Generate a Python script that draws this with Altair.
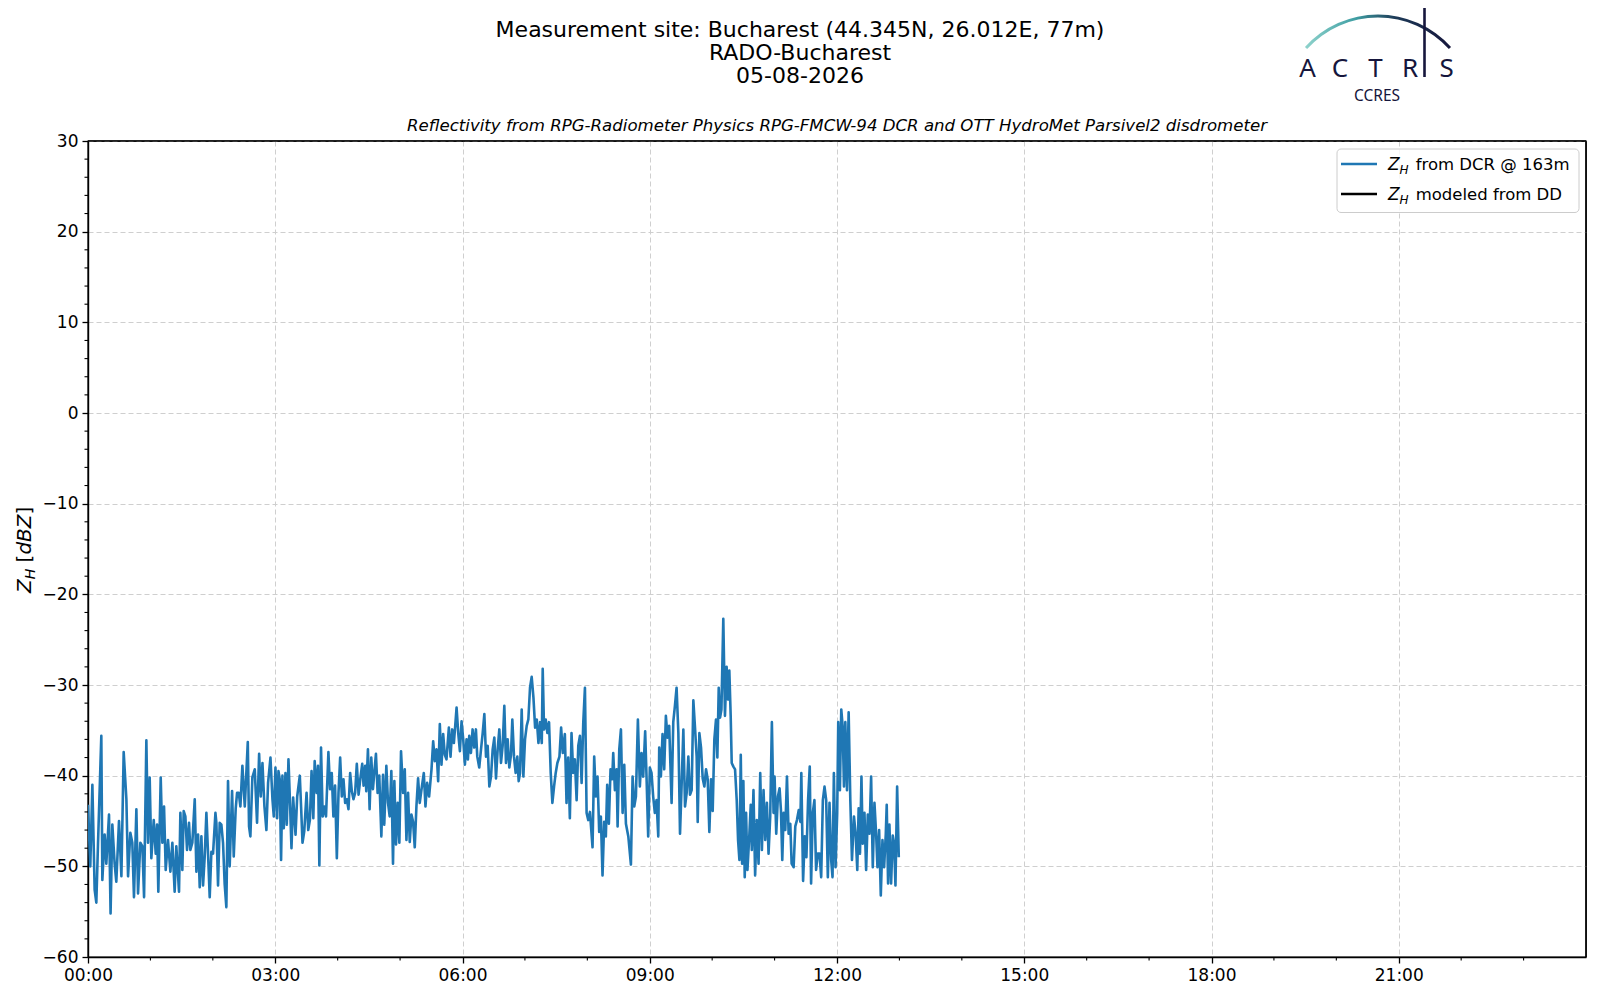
import altair as alt
import pandas as pd

# ---------------- data ----------------
minutes = [
    0.0, 2.2, 4.2, 6.4, 8.0, 9.6, 12.8, 13.8, 16.0, 17.6, 20.2, 21.7, 23.4, 25.6, 27.2, 29.8,
    32.1, 34.3, 36.9, 38.5, 40.7, 42.6, 44.2, 46.5, 48.1, 50.3, 52.3, 53.9, 56.1, 57.7, 59.3,
    60.9, 63.2, 65.1, 66.4, 67.6, 69.9, 71.5, 73.1, 74.7, 76.9, 79.2, 81.1, 83.3, 84.9, 87.5,
    88.8, 90.7, 92.0, 93.6, 95.2, 97.1, 98.4, 100.3, 102.6, 104.2, 105.8, 107.4, 109.0, 110.6,
    112.2, 113.8, 115.4, 117.0, 118.6, 120.2, 122.5, 123.4, 125.0, 126.6, 128.2, 129.8, 131.4,
    133.0, 134.6, 136.2, 138.5, 140.1, 142.0, 143.3, 144.9, 146.5, 148.4,
    150.7, 153.6, 154.8, 156.1, 158.0, 160.3, 162.5, 164.5, 166.1, 167.7, 169.6, 171.5, 173.1,
    175.4, 177.3, 178.6, 180.2, 181.8, 183.1, 184.3, 185.6, 186.9, 188.2, 189.8, 191.1, 192.7,
    194.3, 195.6, 197.2, 199.5, 201.1, 203.6, 204.9, 206.2, 207.9, 210.1, 211.7, 213.3, 214.9,
    216.6, 217.9, 219.8, 221.1, 222.4, 224.0, 225.6, 227.2, 228.8, 231.1, 232.7, 234.3, 235.9,
    237.5, 239.2, 240.8, 242.4, 244.0, 245.6, 247.2, 248.8, 250.4, 252.0, 253.6, 255.2, 256.8,
    258.4, 260.1, 261.7, 263.6, 264.9, 266.5, 267.5, 269.1, 270.7, 272.3, 273.9, 275.2, 276.8,
    278.4, 280.0, 282.0, 283.6, 284.8, 286.8, 288.4, 290.0, 291.6, 293.2, 294.5, 296.1, 297.7,
    299.3, 300.9,
    302.9, 304.5, 306.1, 307.7, 309.3, 310.9, 312.5, 314.1, 315.7, 317.3, 318.9, 320.5, 322.8,
    324.4, 326.0, 327.9, 330.2, 331.8, 333.4, 335.0, 336.6, 338.2, 339.8, 341.4, 343.0, 344.6,
    346.9, 348.5, 350.1, 351.7, 353.0, 354.3, 355.9, 357.5, 359.1, 360.7, 362.3, 363.9, 365.2,
    366.5, 368.1, 369.7, 371.3, 372.9, 374.2, 376.1, 377.8, 379.4, 381.0, 382.6, 384.2, 385.8,
    387.4, 389.0, 390.6, 392.2, 393.8, 395.4, 397.0, 398.6, 400.2, 401.8, 403.4, 405.0, 406.6,
    407.9, 409.5, 411.1, 412.7, 414.0, 415.3, 416.9, 418.5, 420.1, 421.7, 423.3, 424.9, 426.5,
    428.2, 429.8, 431.4, 433.0, 434.6, 436.2, 437.1, 438.4, 440.0, 441.6, 443.2, 444.8, 446.4,
    448.0, 449.6, 451.2, 453.2, 454.8, 456.4,
    458.4, 460.0, 461.6, 463.2, 464.8, 466.4, 468.0, 469.7, 471.3, 472.9, 474.5, 476.1, 477.7,
    479.3, 480.9, 482.5, 485.0, 486.6, 488.2, 489.8, 491.4, 493.0, 494.6, 496.2, 497.8, 499.1,
    500.7, 502.3, 503.9, 504.9, 506.5, 508.1, 509.1, 510.7, 512.3, 513.9, 515.5, 517.1, 519.4,
    521.9, 523.5, 525.1, 526.7, 528.6, 530.5, 532.1, 533.7, 535.6, 536.9, 538.5, 540.1, 541.7,
    543.3, 544.9, 546.5, 548.2, 549.1, 550.7, 552.3, 553.9, 555.5, 557.1, 558.7, 561.0, 562.6,
    564.2, 565.8, 567.5, 569.1, 570.7, 572.3, 573.9, 575.5, 577.1, 578.7, 580.3, 581.9, 583.5,
    585.1, 586.1, 587.7, 589.3, 590.9, 592.5, 594.1, 595.7, 597.3, 598.9, 600.5, 602.1, 603.7,
    605.0, 606.3, 607.6, 608.9, 610.7,
    612.3, 613.9, 615.2, 616.5, 617.8, 618.8, 620.4, 622.0, 623.6, 624.9, 626.2, 627.5, 628.8,
    630.0, 631.3, 632.6, 633.9, 635.8, 637.1, 638.1, 639.7, 641.3, 642.9, 644.6, 646.2, 647.8,
    649.4, 651.0, 652.6, 654.2, 655.8, 657.4, 659.0, 660.0, 661.6, 663.2, 664.8, 666.1, 667.4,
    668.7, 670.3, 671.9, 673.5, 675.1, 676.4, 678.3, 679.9, 681.5, 683.2, 684.8, 685.7, 687.4,
    689.0, 690.6, 692.2, 693.8, 695.1, 696.7, 698.3, 699.9, 701.5, 703.2, 704.8, 706.4, 708.0,
    709.6, 711.2, 712.8, 714.4, 715.7, 717.0, 718.6, 720.2, 721.2, 722.8, 724.1, 725.4, 726.7,
    728.0, 729.6, 731.2, 732.8, 734.4, 736.3, 737.9, 739.5, 740.8, 742.1, 743.5, 744.7, 746.4,
    748.0, 749.6, 751.2, 752.8, 754.4, 756.0, 757.6, 758.9, 760.5, 762.1, 763.7, 765.3, 766.9,
    767.8, 769.1, 770.4, 772.0, 773.6, 774.9, 776.2, 777.8, 779.4,
]

dbz = [
    -43.2, -50.0, -41.0, -52.6, -54.0, -47.6, -35.6, -51.5, -46.5, -49.7, -44.3, -55.2, -45.4, -49.7, -51.7, -45.0,
    -51.1, -37.4, -42.6, -51.1, -46.3, -47.4, -53.4, -43.7, -53.0, -47.4, -47.8, -53.4, -36.1, -47.4, -40.2,
    -49.1, -44.9, -48.6, -45.4, -52.8, -40.2, -47.4, -43.4, -50.4, -47.1, -50.6, -47.4, -52.8, -47.8, -52.8,
    -44.1, -50.4, -43.9, -44.5, -48.2, -45.2, -48.2, -47.4, -42.6, -50.6, -46.5, -52.3, -46.7, -52.1,
    -48.9, -44.1, -48.6, -53.4, -48.4, -48.6, -44.1, -45.2, -52.1, -45.2, -45.4, -47.4, -52.0,
    -54.5, -40.6, -50.0, -41.7, -48.9, -43.6, -41.9, -41.9, -43.4, -38.9,
    -43.4, -36.3, -45.6, -46.7, -40.2, -39.3, -45.2, -37.6, -42.3, -38.6, -43.4, -46.0, -40.8,
    -38.0, -42.6, -44.5, -39.1, -44.7, -39.5, -40.4, -49.3, -40.0, -45.8, -39.7, -45.4, -38.2,
    -43.4, -48.0, -42.4, -46.5, -42.3, -40.0, -43.6, -47.4, -46.1, -41.9, -46.0, -44.9, -39.5,
    -44.7, -38.4, -41.9, -38.9, -49.9, -36.9, -44.5, -43.4, -44.5, -37.4, -41.5, -39.7, -44.5,
    -41.1, -49.1, -41.9, -38.0, -42.3, -40.4, -43.0, -42.6, -43.7, -39.7, -41.7, -42.6, -41.9,
    -38.7, -42.1, -40.4, -38.7, -41.1, -38.9, -41.7, -37.1, -43.7, -38.0, -41.5, -39.7, -37.6,
    -41.9, -40.0, -46.7, -39.9, -45.4, -38.9, -43.0, -44.5, -39.5, -49.7, -40.6, -47.6, -43.0,
    -47.4, -37.3,
    -41.9, -39.3, -47.1, -41.9, -47.3, -44.3, -45.1, -47.9, -43.4, -40.3, -43.0, -41.6, -39.7,
    -43.4, -40.8, -42.3, -39.3, -36.2, -38.4, -37.1, -40.6, -34.3, -38.8, -35.4, -37.7, -38.2,
    -34.7, -37.9, -34.9, -36.4, -34.5, -32.5, -35.3, -37.3, -34.0, -36.0, -38.8, -36.0, -38.2,
    -35.6, -37.5, -34.9, -36.9, -34.9, -37.9, -39.1, -37.1, -35.3, -33.2, -37.9, -36.7, -41.2,
    -40.1, -37.1, -35.8, -40.3, -37.1, -34.9, -38.6, -36.7, -32.3, -38.6, -36.0, -39.1, -37.7,
    -33.8, -37.9, -39.7, -37.9, -40.6, -39.7, -32.7, -40.1, -36.0, -34.5, -33.8, -30.3, -29.1,
    -31.4, -34.7, -33.8, -36.4, -34.1, -36.4, -28.2, -34.9, -33.8, -35.3, -34.1, -39.7, -43.0,
    -41.2, -39.7, -38.6, -37.9, -34.7, -37.5,
    -35.4, -43.0, -38.0, -44.7, -35.3, -39.7, -38.2, -42.7, -36.7, -35.6, -40.8, -34.1, -30.3,
    -44.1, -44.9, -44.0, -47.9, -37.9, -42.3, -40.1, -46.2, -44.5, -51.0, -45.1, -46.7, -41.0,
    -45.3, -39.3, -40.4, -37.5, -41.6, -39.3, -45.6, -37.1, -34.9, -44.1, -38.8, -45.3, -46.7,
    -49.8, -40.1, -43.4, -42.3, -33.8, -41.2, -37.5, -40.1, -35.1, -40.1, -46.7, -39.1, -39.7,
    -42.3, -44.1, -42.7, -46.7, -36.9, -40.1, -35.4, -39.3, -33.4, -35.8, -34.5, -43.0, -34.1,
    -32.3, -30.3, -35.3, -46.4, -40.8, -34.9, -43.4, -41.9, -37.9, -42.1, -41.6, -31.7, -34.7,
    -37.9, -45.1, -35.3, -36.9, -40.3, -41.2, -39.3, -40.4, -46.2, -40.4, -43.9, -36.0, -33.8,
    -38.0, -30.3, -33.6, -32.7, -22.7,
    -33.4, -28.0, -31.6, -28.4, -33.4, -38.6, -39.0, -39.3, -42.7, -47.1, -49.3, -37.7, -49.7,
    -40.6, -51.2, -44.1, -50.4, -46.4, -43.2, -48.2, -41.6, -51.0, -44.9, -49.7, -39.7, -48.2,
    -41.6, -47.1, -43.0, -48.6, -44.5, -34.1, -44.1, -40.1, -46.4, -42.3, -41.4, -43.8, -49.3,
    -44.1, -46.0, -40.1, -46.4, -45.3, -49.7, -50.1, -45.6, -44.9, -43.8, -45.1, -39.7, -51.6,
    -46.7, -49.0, -42.7, -39.0, -51.9, -44.1, -42.7, -50.4, -48.6, -48.6, -51.2, -42.7, -41.2,
    -42.7, -51.2, -43.0, -49.3, -51.2, -39.7, -50.1, -44.1, -34.1, -41.6, -32.7, -34.5, -41.2,
    -34.1, -41.6, -33.0, -42.7, -49.3, -44.5, -46.4, -50.4, -43.6, -48.6, -40.1, -47.5, -44.1,
    -50.4, -44.3, -46.4, -40.1, -50.1, -43.0, -46.4, -50.1, -46.0, -53.2, -47.1, -50.1, -46.4,
    -43.2, -51.9, -45.4, -51.9, -46.6, -47.5, -52.1, -41.2, -49.0,
]

x_major = [0, 3, 6, 9, 12, 15, 18, 21]
x_minor = [h for h in range(1, 24) if h % 3 != 0]
y_major = [-60, -50, -40, -30, -20, -10, 0, 10, 20, 30]
y_minor = [v for v in range(-58, 30, 2) if v % 10 != 0]

title_lines = [
    "Measurement site: Bucharest (44.345N, 26.012E, 77m)",
    "RADO-Bucharest",
    "05-08-2026",
]
subtitle = ("Reflectivity from RPG-Radiometer Physics RPG-FMCW-94 DCR "
            "and OTT HydroMet Parsivel2 disdrometer")
legend_texts = ["from DCR @ 163m", "modeled from DD"]
legend_colors = ["#1f77b4", "#000000"]
logo_letters = ["A", "C", "T", "R", "S"]

# ---------------- layout ----------------
W, H = 1498, 816
FONT = "DejaVu Sans"
NAVY = "#16163c"

df = pd.DataFrame({"hour": [m / 60.0 for m in minutes], "dbz": dbz})
xscale = alt.Scale(domain=[0, 24], nice=False, zero=False)
yscale = alt.Scale(domain=[-60, 30], nice=False, zero=False)

common_axis = dict(
    title=None, grid=True, gridDash=[5, 3], gridColor="#cfcfcf", gridWidth=1,
    domainColor="black", domainWidth=1.4, tickColor="black", tickWidth=1.3, tickSize=6,
    labelFont=FONT, labelFontSize=17, labelColor="black", labelPadding=4,
    labelFlush=False, labelOverlap=False,
)
x_axis = alt.Axis(
    values=x_major,
    labelExpr="(datum.value < 10 ? '0' : '') + datum.value + ':00'",
    **common_axis)
y_axis = alt.Axis(
    values=y_major,
    labelExpr="replace(toString(datum.value), '-', '\u2212')",
    **common_axis)

line = alt.Chart(df).mark_line(
    color="#1f77b4", strokeWidth=2.6, strokeJoin="round", clip=True
).encode(
    x=alt.X("hour:Q", scale=xscale, axis=x_axis),
    y=alt.Y("dbz:Q", scale=yscale, axis=y_axis),
)

xminor = alt.Chart(pd.DataFrame({"hour": x_minor})).mark_rule(
    color="black", strokeWidth=1.1
).encode(
    x=alt.X("hour:Q", scale=xscale, axis=x_axis),
    y=alt.value(H), y2=alt.value(H + 3.5),
)
yminor = alt.Chart(pd.DataFrame({"dbz": y_minor})).mark_rule(
    color="black", strokeWidth=1.1
).encode(
    y=alt.Y("dbz:Q", scale=yscale, axis=y_axis),
    x=alt.value(0), x2=alt.value(-3.5),
)

one = pd.DataFrame({"k": [0]})


def txt(s, x, y, size, style="normal", align="center", baseline="middle",
        angle=None, color="black", font=FONT, weight="normal"):
    kw = dict(text=s, fontSize=size, fontStyle=style, align=align,
              baseline=baseline, color=color, font=font, fontWeight=weight)
    if angle is not None:
        kw["angle"] = angle
    return alt.Chart(one).mark_text(**kw).encode(x=alt.value(x), y=alt.value(y))


# top and right spines (drawn over the gridlines)
spine_top = alt.Chart(one).mark_rule(color="black", strokeWidth=1.4).encode(
    x=alt.value(0), x2=alt.value(W), y=alt.value(0))
spine_right = alt.Chart(one).mark_rule(color="black", strokeWidth=1.4).encode(
    x=alt.value(W), y=alt.value(0), y2=alt.value(H))

layers = [line, xminor, yminor, spine_top, spine_right]

# titles
for i, t in enumerate(title_lines):
    layers.append(txt(t, 712, -111 + 23 * i, 22))
layers.append(txt(subtitle, W / 2, -15, 16.6, style="italic"))

# y-axis label: Z_H [dBZ]
ylx = -57
layers += [
    txt("Z", ylx, 452, 20, style="italic", align="left", baseline="alphabetic", angle=270),
    txt("H", ylx + 4, 438.3, 14, style="italic", align="left", baseline="alphabetic", angle=270),
    txt("[", ylx, 421.4, 20, align="left", baseline="alphabetic", angle=270),
    txt("dBZ", ylx, 413.6, 20, style="italic", align="left", baseline="alphabetic", angle=270),
    txt("]", ylx, 373.5, 20, align="left", baseline="alphabetic", angle=270),
]

# legend
legend_box = alt.Chart(one).mark_rect(
    fill="white", fillOpacity=0.8, stroke="#cccccc", strokeWidth=1, cornerRadius=4
).encode(x=alt.value(1249), x2=alt.value(1491), y=alt.value(8), y2=alt.value(71.5))
layers.append(legend_box)
for i, (lab, col) in enumerate(zip(legend_texts, legend_colors)):
    yc = 23 + 30 * i
    layers.append(alt.Chart(one).mark_rule(color=col, strokeWidth=2.5).encode(
        x=alt.value(1253), x2=alt.value(1289), y=alt.value(yc)))
    layers.append(txt("Z", 1300, yc + 6, 17, style="italic", align="left", baseline="alphabetic"))
    layers.append(txt("H", 1311.6, yc + 10, 12, style="italic", align="left", baseline="alphabetic"))
    layers.append(txt(lab, 1327.7, yc + 6, 16.5, align="left", baseline="alphabetic"))

# ACTRIS / CCRES logo
arc = alt.Chart(one).mark_arc(
    theta=5.447, theta2=7.119, innerRadius=95.5, outerRadius=98.5,
    fill=alt.LinearGradient(
        gradient="linear", x1=0, x2=1, y1=0, y2=0,
        stops=[alt.GradientStop(color="#8fd3cc", offset=0),
               alt.GradientStop(color="#3f9ea3", offset=0.35),
               alt.GradientStop(color="#1d3a57", offset=0.62),
               alt.GradientStop(color=NAVY, offset=1)]),
).encode(x=alt.value(1290), y=alt.value(-28))
layers.append(arc)
for letter, lx in zip(logo_letters, [1219.5, 1252.0, 1287.5, 1322.0, 1358.7]):
    layers.append(txt(letter, lx, -64, 26, align="center", baseline="alphabetic",
                      color=NAVY, font="Noto Sans"))
layers.append(alt.Chart(one).mark_rule(color=NAVY, strokeWidth=2.6).encode(
    x=alt.value(1336.5), y=alt.value(-139), y2=alt.value(-64)))
layers.append(txt("CCRES", 1289, -40.5, 15.5, align="center", baseline="alphabetic",
                  color=NAVY, font="Noto Sans"))

chart = alt.layer(*layers).properties(
    width=W, height=H,
    autosize=alt.AutoSizeParams(type="none"),
    padding={"left": 80, "top": 133, "right": 6, "bottom": 30},
).configure_view(stroke="black", strokeWidth=1.4)

chart.save("out.html", embed_options={"renderer": "svg", "actions": False})
